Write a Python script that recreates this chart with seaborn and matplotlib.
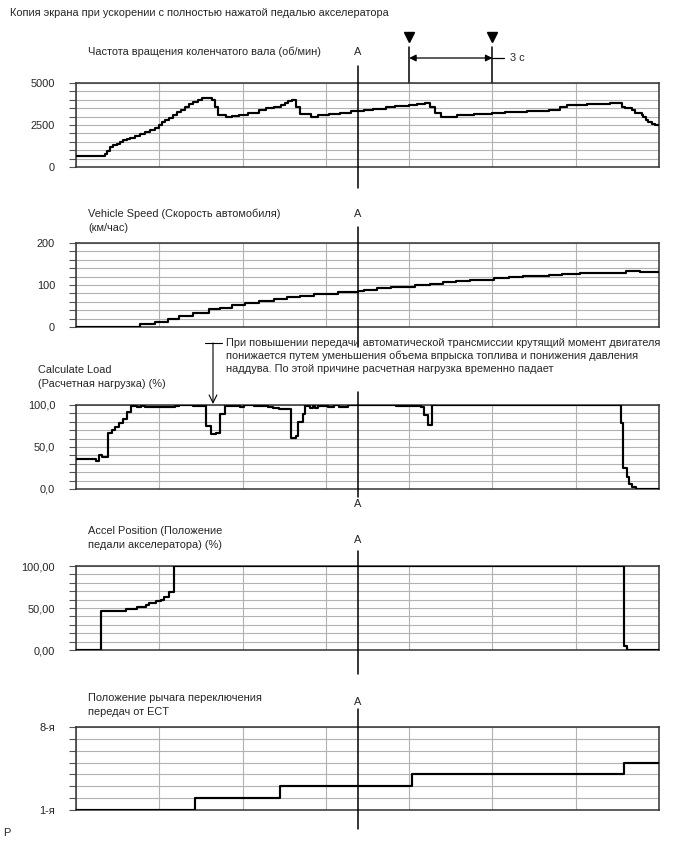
import matplotlib
matplotlib.use("Agg")
import matplotlib.pyplot as plt
import seaborn as sns
import pandas as pd
import numpy as np
from matplotlib.transforms import blended_transform_factory

# ---------------- data (time in seconds, 21 s window) ----------------
T_END = 21.0
A_TIME = 10.15

rpm_t = [0, 1.04, 1.13, 1.22, 1.32, 1.46, 1.58, 1.70, 1.85, 1.94, 2.14, 2.30, 2.50, 2.67,
         2.85, 2.98, 3.10, 3.22, 3.36, 3.51, 3.63, 3.77, 3.94, 4.08, 4.23, 4.39, 4.55,
         4.91, 5.00, 5.12, 5.39, 5.62, 5.86, 6.18, 6.58, 6.85, 7.13, 7.37, 7.53, 7.65,
         7.77, 7.93, 8.08, 8.48, 8.72, 9.11, 9.51, 9.90, 10.38, 10.70, 11.17, 11.49,
         12.00, 12.28, 12.57, 12.76, 12.92, 13.16, 13.71, 14.34, 14.98, 15.45, 16.25,
         17.04, 17.43, 17.68, 18.40, 19.24, 19.66, 19.78, 20.02, 20.14, 20.38, 20.44, 20.53,
         20.62, 20.74, 20.86, 21.0]
rpm_v = [675, 794, 952, 1190, 1290, 1389, 1468, 1587, 1687, 1746, 1825, 1944, 2083, 2222,
         2341, 2480, 2659, 2817, 2936, 3075, 3254, 3413, 3571, 3730, 3889, 3990, 4080,
         4000, 3600, 3115, 2960, 3016, 3115, 3214, 3413, 3512, 3591, 3710, 3790, 3909,
         3988, 3551, 3155, 2976, 3075, 3155, 3234, 3313, 3393, 3472, 3551, 3631,
         3690, 3750, 3829, 3551, 3194, 2996, 3075, 3135, 3214, 3274, 3353,
         3413, 3583, 3681, 3740, 3819, 3583, 3484, 3386, 3228, 3091, 2953, 2815,
         2677, 2559, 2480, 2480]

speed_t = [0, 2.30, 2.85, 3.33, 3.72, 4.20, 4.80, 5.20, 5.63, 6.10, 6.58, 7.13, 7.61, 8.08,
           8.56, 9.43, 10.14, 10.38, 10.86, 11.33, 12.20, 12.76, 13.23, 13.70, 14.19,
           15.06, 15.60, 16.10, 17.04, 17.50, 18.15, 19.80, 20.30, 21.0]
speed_v = [0.5, 7, 11.8, 18.9, 26, 33.8, 42.5, 46.4, 52, 56.7, 61.4, 66, 70.8, 74.8,
           78.7, 82.6, 85.8, 88, 92.9, 96, 99, 103, 106, 110, 113,
           116.5, 119.6, 121, 124, 126.7, 129, 133.8, 131.4, 131.4]

load_t = [0, 0.72, 0.82, 0.94, 1.15, 1.30, 1.42, 1.54, 1.68, 1.82, 1.97, 2.20, 2.35, 2.50,
          3.40, 3.55, 3.70, 4.20, 4.45, 4.70, 4.87, 5.06, 5.20, 5.35, 5.90, 6.05, 6.40,
          6.90, 7.10, 7.30, 7.74, 7.92, 8.00, 8.16, 8.24, 8.42, 8.52, 8.60, 8.70, 9.07,
          9.31, 9.49, 9.79, 11.52, 12.44, 12.52, 12.68, 12.84, 19.62, 19.71, 19.85,
          19.93, 20.04, 20.18, 21.0]
load_v = [35.3, 33.3, 40.5, 38, 67, 69.8, 73.8, 78.6, 83.3, 92, 99, 97.5, 99, 98,
          97.5, 98.5, 99.5, 99, 98.3, 74.6, 65, 66.5, 89.7, 99.2, 97.5, 99.5, 99,
          98, 96.5, 95.5, 61, 62.7, 79.8, 89.7, 99, 97, 99, 97, 99.3, 97.6,
          99.5, 97.6, 99.5, 98.4, 97.6, 87.7, 75.8, 99.5, 78.6, 25, 14.3,
          6.3, 2.4, 0.5, 0.5]

accel_t = [0, 0.89, 1.80, 2.18, 2.52, 2.64, 2.88, 3.07, 3.17, 3.34, 3.53, 19.75, 19.86, 21.0]
accel_v = [0.5, 46.8, 48.8, 51.6, 53.6, 56, 58, 60, 63.5, 68.7, 99.6, 5, 0.5, 0.5]

gear_t = [0, 4.28, 7.34, 12.12, 19.74, 21.0]
gear_v = [1, 2, 3, 4, 5, 5]

title_main = "Копия экрана при ускорении с полностью нажатой педалью акселератора"
panel_titles = [
    ["Частота вращения коленчатого вала (об/мин)"],
    ["Vehicle Speed (Скорость автомобиля)", "(км/час)"],
    ["Calculate Load", "(Расчетная нагрузка) (%)"],
    ["Accel Position (Положение", "педали акселератора) (%)"],
    ["Положение рычага переключения", "передач от ECT"],
]
note_lines = ["При повышении передачи автоматической трансмиссии крутящий момент двигателя",
              "понижается путем уменьшения объема впрыска топлива и понижения давления",
              "наддува. По этой причине расчетная нагрузка временно падает"]

y_ranges = [(0, 5000, 500), (0, 200, 20), (0, 100, 10), (0, 100, 10), (1, 8, 1)]
y_labels = [{0: "0", 2500: "2500", 5000: "5000"},
            {0: "0", 100: "100", 200: "200"},
            {0: "0,0", 50: "50,0", 100: "100,0"},
            {0: "0,00", 50: "50,00", 100: "100,00"},
            {1: "1-я", 8: "8-я"}]

series = [(rpm_t, rpm_v), (speed_t, speed_v), (load_t, load_v), (accel_t, accel_v), (gear_t, gear_v)]

# ---------------- layout ----------------
W, H = 688, 852
sns.set_theme(style="white")
plt.rcParams['font.family'] = ['Liberation Sans', 'DejaVu Sans']
FS = 7.9

fig = plt.figure(figsize=(W / 100, H / 100), dpi=100)

def fx(px):
    return px / W

def fy(py):
    return 1 - py / H

LEFT, RIGHT = 76, 659
panel_box = [(83, 167), (243, 327), (405, 489), (566, 650), (727, 810)]
title_y = [(52,), (214, 228), (370, 384), (531, 545), (698, 712)]
title_x = [88, 88, 38, 88, 88]
# A-label y, A-line top, A-line bottom (pixels)
a_marks = [(52, 66, 188), (214, 227, 347), (504, 392, 497), (540, 551, 674), (702, 709, 829)]

axes = []
for i, ((top, bot), (tt, vv)) in enumerate(zip(panel_box, series)):
    ax = fig.add_axes([fx(LEFT), fy(bot), fx(RIGHT) - fx(LEFT), (bot - top) / H])
    axes.append(ax)
    df = pd.DataFrame({"t": tt, "v": vv})
    sns.lineplot(data=df, x="t", y="v", ax=ax, color="black", lw=1.55,
                 drawstyle="steps-post", estimator=None, sort=False, zorder=5)
    lo, hi, step = y_ranges[i]
    ax.set_xlim(0, T_END)
    ax.set_ylim(lo, hi)
    ticks = np.arange(lo, hi + step / 2, step)
    ax.set_yticks(ticks)
    ax.set_yticklabels([y_labels[i].get(int(round(t)), "") for t in ticks], fontsize=FS)
    ax.set_xticks(np.arange(0, T_END + 0.1, 3))
    ax.set_xticklabels([])
    ax.grid(True, color="#b2b2b2", lw=0.8)
    ax.tick_params(axis="y", length=5, width=0.8, color="#555555", pad=10, left=True)
    ax.tick_params(axis="x", length=0)
    ax.set_xlabel("")
    ax.set_ylabel("")
    for s in ax.spines.values():
        s.set_color("#333333")
        s.set_linewidth(1.1)
    ax.set_facecolor("white")

    # panel titles
    for line, y in zip(panel_titles[i], title_y[i]):
        fig.text(fx(title_x[i]), fy(y), line, fontsize=FS, ha="left", va="center")

    # A marker line
    la, ltop, lbot = a_marks[i]
    ymin = (bot - lbot) / (bot - top)
    ymax = (bot - ltop) / (bot - top)
    ax.axvline(A_TIME, ymin=ymin, ymax=ymax, color="black", lw=1.1, clip_on=False, zorder=6)
    trans = blended_transform_factory(ax.transData, fig.transFigure)
    ax.text(A_TIME, fy(la), "A", transform=trans, fontsize=FS, ha="center", va="center")

# main title
fig.text(fx(10), fy(13), title_main, fontsize=FS, ha="left", va="center")

# 3 s markers on panel 1
ax0 = axes[0]
top, bot = panel_box[0]
tr0 = blended_transform_factory(ax0.transData, fig.transFigure)
for tm in (12, 15):
    ax0.plot([tm, tm], [fy(47), fy(83)], color="black", lw=1.1, transform=tr0, clip_on=False)
    ax0.plot([tm], [fy(37)], marker="v", color="black", ms=7, transform=tr0, clip_on=False)
ax0.annotate("", xy=(12, fy(58)), xytext=(15, fy(58)), xycoords=tr0, textcoords=tr0,
             arrowprops=dict(arrowstyle="<|-|>", color="black", lw=0.9, mutation_scale=10,
                             shrinkA=0, shrinkB=0))
ax0.plot([15, 15.4], [fy(58), fy(58)], color="black", lw=0.9, transform=tr0, clip_on=False)
ax0.text(15.65, fy(58), "3 с", transform=tr0, fontsize=FS, ha="left", va="center")

# annotation on load panel
for line, y in zip(note_lines, (343, 356, 369)):
    fig.text(fx(226), fy(y), line, fontsize=FS, ha="left", va="center")
ax2 = axes[2]
tr2 = blended_transform_factory(ax2.transData, fig.transFigure)
xa = (213 - LEFT) / (RIGHT - LEFT) * T_END
ax2.plot([(205 - LEFT) / (RIGHT - LEFT) * T_END, (222 - LEFT) / (RIGHT - LEFT) * T_END],
         [fy(343), fy(343)], color="black", lw=0.8, transform=tr2, clip_on=False)
ax2.annotate("", xy=(xa, fy(404)), xytext=(xa, fy(343)), xycoords=tr2, textcoords=tr2,
             arrowprops=dict(arrowstyle="->", color="black", lw=0.8, mutation_scale=14,
                             shrinkA=0, shrinkB=0))

fig.text(fx(3), fy(833), "P", fontsize=FS, ha="left", va="center")

fig.savefig("out.png", dpi=100, facecolor="white")
